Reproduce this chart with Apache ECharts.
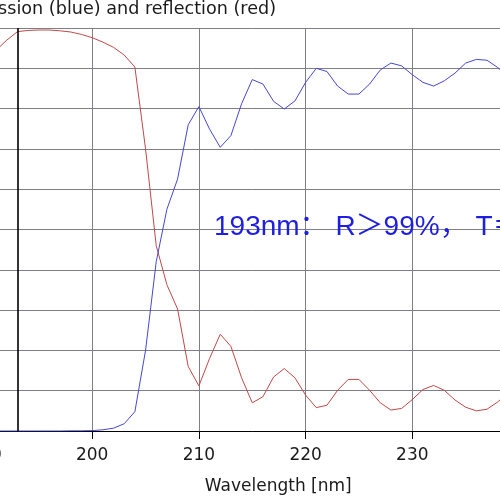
<!DOCTYPE html>
<html>
<head>
<meta charset="utf-8">
<script src="https://cdn.jsdelivr.net/npm/echarts@6/dist/echarts.min.js"></script>
<style>
html,body{margin:0;padding:0;width:500px;height:500px;overflow:hidden;background:#fff;}
#chart{position:absolute;left:-100px;top:0;width:660px;height:500px;}
</style>
</head>
<body>
<div id="chart"></div>
<script>
// Wavelength samples [nm]
const wavelengths = [190,191,192,193,194,195,196,197,198,199,200,201,202,203,204,205,206,207,208,209,210,211,212,213,214,215,216,217,218,219,220,221,222,223,224,225,226,227,228,229,230,231,232,233,234,235,236,237,238,239,240];
// Reflection [%] (red)
const reflection = [91.5,94.5,97.0,99.1,99.4,99.5,99.5,99.3,99.0,98.4,97.6,96.5,95.2,93.3,90.3,70,46,36.3,30.3,16,11.2,18,24,21,13.2,7,8.5,13.4,15.5,13.2,8.9,5.8,6.4,10.1,12.8,12.8,10.1,7,5.2,5.6,7.8,10.3,11.3,10.1,7.7,5.9,5,5.4,7.2,9.5,11];
// Transmission [%] (blue)
const transmission = [0,0,0,0,0,0,0,0,0.05,0.05,0.1,0.3,0.7,1.8,4.8,20,42,55,62.5,76,80.5,74.9,70.4,73.3,81.2,87.2,86.1,81.8,79.9,81.9,86.5,90,89.2,85.6,83.6,83.6,86.1,89.6,91.3,90.6,88.4,86.5,85.6,86.9,88.8,91.3,92.2,92,90.2,88,86.5];
// Axis ticks
const xTicks = [190,200,210,220,230,240];
const yTicks = [0,10,20,30,40,50,60,70,80,90,100];
const markWavelength = 193;
const titleText = 'Transmission (blue) and reflection (red)';
const xName = 'Wavelength [nm]';
const noteText = '193nm： R＞99%， T＝0.1%';

const pairs = (ys) => wavelengths.map((x, i) => [x, ys[i]]);
const gridColor = '#7e7e88';

const chart = echarts.init(document.getElementById('chart'));
chart.setOption({
  animation: false,
  backgroundColor: '#fff',
  title: {
    text: titleText,
    right: 284,
    top: 0,
    padding: 0,
    textStyle: {fontFamily: 'DejaVu Sans', fontSize: 17.6, fontWeight: 'normal', color: '#1a1a1a'}
  },
  grid: {left: 85.5, right: 41, top: 28, bottom: 69},
  xAxis: {
    type: 'value',
    min: xTicks[0],
    max: xTicks[xTicks.length - 1],
    interval: xTicks[1] - xTicks[0],
    name: xName,
    nameLocation: 'middle',
    nameGap: 47,
    nameTextStyle: {fontFamily: 'DejaVu Sans', fontSize: 17, color: '#1a1a1a', padding: [0, 0, 0, 52]},
    axisLine: {lineStyle: {color: '#000', width: 1}},
    axisTick: {show: true, length: 8, lineStyle: {color: '#000'}},
    axisLabel: {fontFamily: 'DejaVu Sans', fontSize: 17, color: '#1a1a1a', margin: 16},
    splitLine: {show: true, lineStyle: {color: gridColor, width: 1}}
  },
  yAxis: {
    type: 'value',
    min: yTicks[0],
    max: yTicks[yTicks.length - 1],
    interval: yTicks[1] - yTicks[0],
    axisLine: {show: true, lineStyle: {color: '#000'}},
    axisTick: {show: true, length: 8, lineStyle: {color: '#000'}},
    axisLabel: {fontFamily: 'DejaVu Sans', fontSize: 17, color: '#1a1a1a'},
    splitLine: {show: true, lineStyle: {color: gridColor, width: 1}}
  },
  series: [
    {
      name: 'Reflection',
      type: 'line',
      data: pairs(reflection),
      showSymbol: false,
      lineStyle: {color: '#c04848', width: 1},
      itemStyle: {color: '#c04848'},
      markLine: {
        silent: true,
        symbol: 'none',
        label: {show: false},
        lineStyle: {color: '#000', width: 1.6, type: 'solid'},
        data: [{xAxis: markWavelength}]
      }
    },
    {
      name: 'Transmission',
      type: 'line',
      data: pairs(transmission),
      showSymbol: false,
      lineStyle: {color: '#4646d2', width: 1},
      itemStyle: {color: '#4646d2'}
    }
  ],
  graphic: [{
    type: 'text',
    z: 100,
    style: {
      x: 314,
      y: 227,
      text: noteText,
      fill: '#1e1ee0',
      font: '28px "Liberation Sans", "Noto Sans CJK SC", sans-serif',
      verticalAlign: 'middle',
      align: 'left'
    }
  }]
});
</script>
</body>
</html>
